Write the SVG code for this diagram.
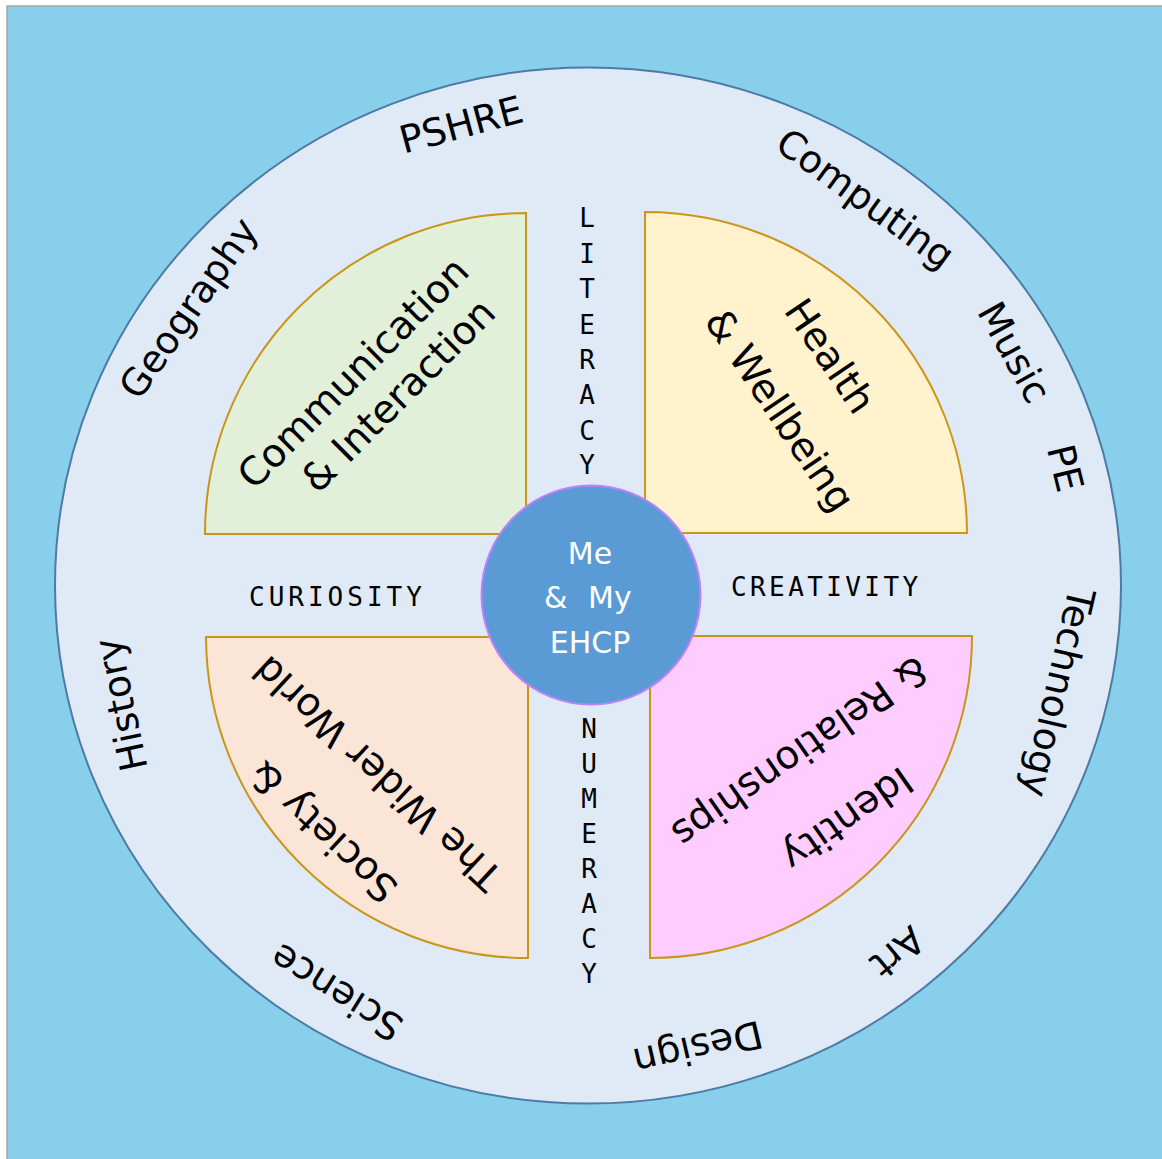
<svg xmlns="http://www.w3.org/2000/svg" width="1162" height="1159" viewBox="0 0 1162 1159">
<style>
.ring{font-family:"DejaVu Sans",sans-serif;font-size:38px;fill:#000;text-anchor:middle}
.quad{font-family:"DejaVu Sans",sans-serif;font-size:39px;fill:#000;text-anchor:middle}
.mono{font-family:"DejaVu Sans Mono",monospace;font-size:26px;fill:#000}
.vert{text-anchor:middle}
.core{font-family:"DejaVu Sans",sans-serif;font-size:30px;fill:#fff}
.q{stroke:#c9961a;stroke-width:2}
</style>
<rect x="7" y="6" width="1156" height="1154" fill="#87cfea" stroke="#a6a6a6" stroke-width="1.5"/>
<g id="outer-circle">
<ellipse cx="588" cy="585.5" rx="533" ry="518" fill="#dfeaf6" stroke="#4d7aa6" stroke-width="2"/>
</g>
<g id="subjects">
<text class="ring" transform="translate(461,124) rotate(-15)" y="14">PSHRE</text>
<text class="ring" transform="translate(863,202) rotate(36)" y="9">Computing</text>
<text class="ring" transform="translate(1015,352) rotate(61)" y="14">Music</text>
<text class="ring" transform="translate(1066,468) rotate(76)" y="14">PE</text>
<text class="ring" transform="translate(1055,692) rotate(103)" y="10">Technology</text>
<text class="ring" transform="translate(898,953) rotate(140)" y="14">Art</text>
<text class="ring" transform="translate(697,1044) rotate(167)" y="9">Design</text>
<text class="ring" transform="translate(336,993) rotate(-148)" y="14">Science</text>
<text class="ring" transform="translate(124,704) rotate(-102)" y="10">History</text>
<text class="ring" transform="translate(191,310) rotate(-55)" y="10">Geography</text>
</g>
<g id="quadrant-communication">
<path class="q" d="M526 534 L205 534 A321 321 0 0 1 526 213 Z" fill="#e2efd9"/>
<text class="quad" transform="translate(376,383) rotate(-45)"><tspan x="-9" y="-10">Communication</tspan><tspan x="7" y="38">&amp; Interaction</tspan></text>
</g>
<g id="quadrant-health">
<path class="q" d="M645 533 L645 212 A322 322 0 0 1 967 533 Z" fill="#fff2cc"/>
<text class="quad" transform="translate(802,387) rotate(56)"><tspan x="-10" y="-27">Health</tspan><tspan x="7" y="45">&amp; Wellbeing</tspan></text>
</g>
<g id="quadrant-society">
<path class="q" d="M528 637 L528 958 A322 322 0 0 1 206 637 Z" fill="#fbe5d6"/>
<text class="quad" transform="translate(350,803) rotate(-137)"><tspan x="0" y="-26">Society &amp;</tspan><tspan x="0" y="54">The Wider World</tspan></text>
</g>
<g id="quadrant-identity">
<path class="q" d="M650 636 L972 636 A322 322 0 0 1 650 958 Z" fill="#ffccff"/>
<text class="quad" transform="translate(824,786) rotate(145)"><tspan x="0" y="-27">Identity</tspan><tspan x="0" y="55">&amp; Relationships</tspan></text>
</g>
<g id="literacy">
<text class="mono vert"><tspan x="587" y="227">L</tspan><tspan x="587" y="263">I</tspan><tspan x="587" y="298">T</tspan><tspan x="587" y="334">E</tspan><tspan x="587" y="369">R</tspan><tspan x="587" y="404">A</tspan><tspan x="587" y="440">C</tspan><tspan x="587" y="474">Y</tspan></text>
</g>
<g id="numeracy">
<text class="mono vert"><tspan x="589" y="738">N</tspan><tspan x="589" y="773">U</tspan><tspan x="589" y="808">M</tspan><tspan x="589" y="843">E</tspan><tspan x="589" y="878">R</tspan><tspan x="589" y="913">A</tspan><tspan x="589" y="948">C</tspan><tspan x="589" y="983">Y</tspan></text>
</g>
<g id="curiosity">
<text class="mono" x="249" y="606" letter-spacing="4">CURIOSITY</text>
</g>
<g id="creativity">
<text class="mono" x="731" y="596" letter-spacing="3.4">CREATIVITY</text>
</g>
<g id="core">
<circle cx="591" cy="595" r="109.5" fill="#5b9bd5" stroke="#bf80ff" stroke-width="2"/>
<text class="core" x="590" y="564" text-anchor="middle">Me</text>
<text class="core" x="544" y="608">&amp;</text>
<text class="core" x="588" y="608">My</text>
<text class="core" x="590" y="653" text-anchor="middle">EHCP</text>
</g>
</svg>
